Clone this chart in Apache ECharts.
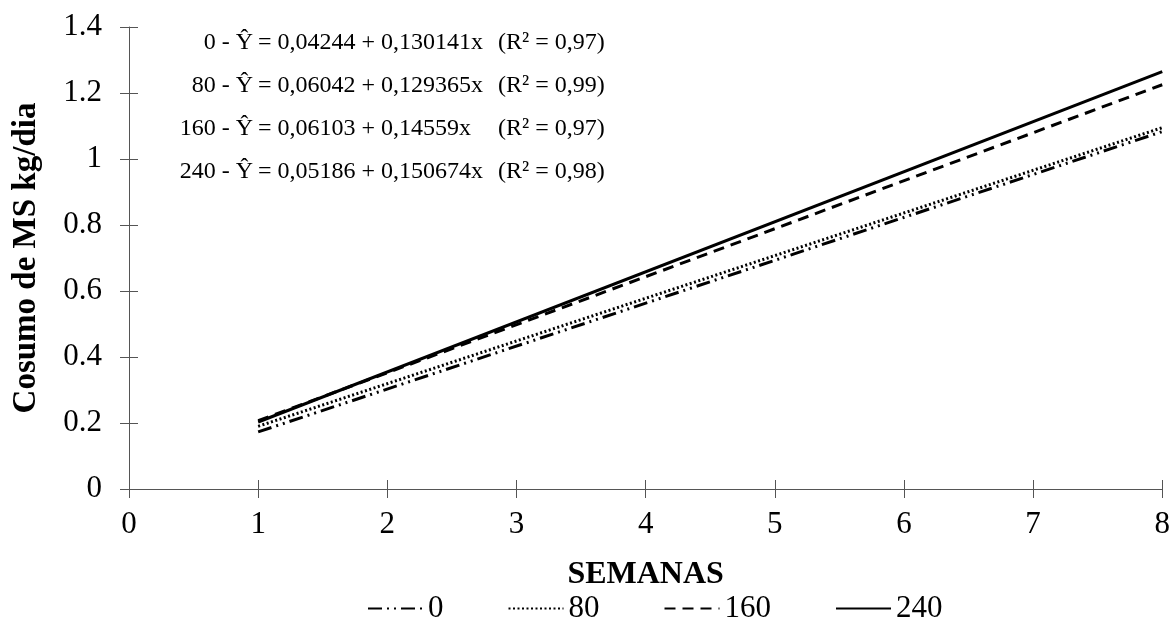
<!DOCTYPE html>
<html>
<head>
<meta charset="utf-8">
<script src="https://cdn.jsdelivr.net/npm/echarts@6/dist/echarts.min.js"></script>
<style>
  html, body { margin: 0; padding: 0; background: #fff; }
  #chart { width: 1173px; height: 630px; }
</style>
</head>
<body>
<div id="chart"></div>
<script>
// semanas (retas so nos extremos)
const semanas = [1, 8];
const consumo0 = [0.173, 1.083];
const consumo80 = [0.190, 1.095];
const consumo160 = [0.207, 1.225];
const consumo240 = [0.203, 1.265];

const nomes = ['0', '80', '160', '240'];
const prefixos = ['0 - Ŷ', '80 - Ŷ', '160 - Ŷ', '240 - Ŷ'];
const equacoes = ['= 0,04244 + 0,130141x', '= 0,06042 + 0,129365x', '= 0,06103 + 0,14559x', '= 0,05186 + 0,150674x'];
const r2 = ['(R² = 0,97)', '(R² = 0,99)', '(R² = 0,97)', '(R² = 0,98)'];

const font = '"Liberation Serif", "Times New Roman", serif';
const axisColor = '#555';

function pares(vals) {
    return semanas.map(function (s, i) { return [s, vals[i]]; });
}

// texto das equacoes
let graphics = [];
for (let i = 0; i < prefixos.length; i++) {
    let y = 43 + i * 43;
    graphics.push({
        type: 'text', x: 253, y: y,
        style: { text: prefixos[i], font: '24px ' + font, fill: '#000', align: 'right', verticalAlign: 'middle' }
    });
    graphics.push({
        type: 'text', x: 258, y: y,
        style: { text: equacoes[i], font: '24px ' + font, fill: '#000', align: 'left', verticalAlign: 'middle' }
    });
    graphics.push({
        type: 'text', x: 498, y: y,
        style: { text: r2[i], font: '24px ' + font, fill: '#000', align: 'left', verticalAlign: 'middle' }
    });
}

const chart = echarts.init(document.getElementById('chart'));

function linha(name, vals, type) {
    return {
        name: name,
        type: 'line',
        data: pares(vals),
        xAxisIndex: 0,
        yAxisIndex: 0,
        symbol: 'none',
        silent: true,
        itemStyle: { color: '#000' },
        lineStyle: { color: '#000', width: 3, type: type }
    };
}

chart.setOption({
    animation: false,
    backgroundColor: '#fff',
    grid: { left: 129, right: 9, top: 27, bottom: 141, containLabel: false },
    graphic: graphics,
    legend: {
        data: nomes,
        top: 588,
        left: 362,
        itemWidth: 55,
        itemHeight: 14,
        itemGap: 64,
        itemStyle: { opacity: 0 },
        textStyle: { fontFamily: font, fontSize: 31, color: '#000' }
    },
    xAxis: [
        {
            type: 'value', min: 0, max: 8, interval: 1,
            name: 'SEMANAS', nameLocation: 'middle', nameGap: 70,
            nameTextStyle: { fontFamily: font, fontSize: 32, fontWeight: 'bold', color: '#000' },
            axisLine: { show: true, onZero: false, lineStyle: { color: axisColor, width: 1 } },
            axisTick: { show: true, length: 9, lineStyle: { color: axisColor } },
            axisLabel: { margin: 20, fontFamily: font, fontSize: 31, color: '#000' },
            splitLine: { show: false }
        },
        {
            type: 'value', min: 0, max: 8, interval: 1, position: 'bottom', offset: 0,
            axisLine: { show: false },
            axisTick: { show: true, inside: true, length: 9, lineStyle: { color: axisColor } },
            axisLabel: { show: false },
            splitLine: { show: false }
        }
    ],
    yAxis: [
        {
            type: 'value', min: 0, max: 1.4, interval: 0.2,
            name: 'Cosumo de MS kg/dia', nameLocation: 'middle', nameGap: 86,
            nameTextStyle: { fontFamily: font, fontSize: 33, fontWeight: 'bold', color: '#000' },
            axisLine: { show: true, lineStyle: { color: axisColor, width: 1 } },
            axisTick: { show: true, length: 9, lineStyle: { color: axisColor } },
            axisLabel: {
                margin: 27, fontFamily: font, fontSize: 31, color: '#000',
                formatter: function (v) { return String(Math.round(v * 10) / 10); }
            },
            splitLine: { show: false }
        },
        {
            type: 'value', min: 0, max: 1.4, interval: 0.2, position: 'left', offset: 0,
            axisLine: { show: false },
            axisTick: { show: true, inside: true, length: 9, lineStyle: { color: axisColor } },
            axisLabel: { show: false },
            splitLine: { show: false }
        }
    ],
    series: [
        linha('0', consumo0, [14, 5, 2, 5, 2, 5]),
        linha('80', consumo80, [2, 2.5]),
        linha('160', consumo160, [11, 7]),
        linha('240', consumo240, 'solid')
    ]
});
</script>
</body>
</html>
